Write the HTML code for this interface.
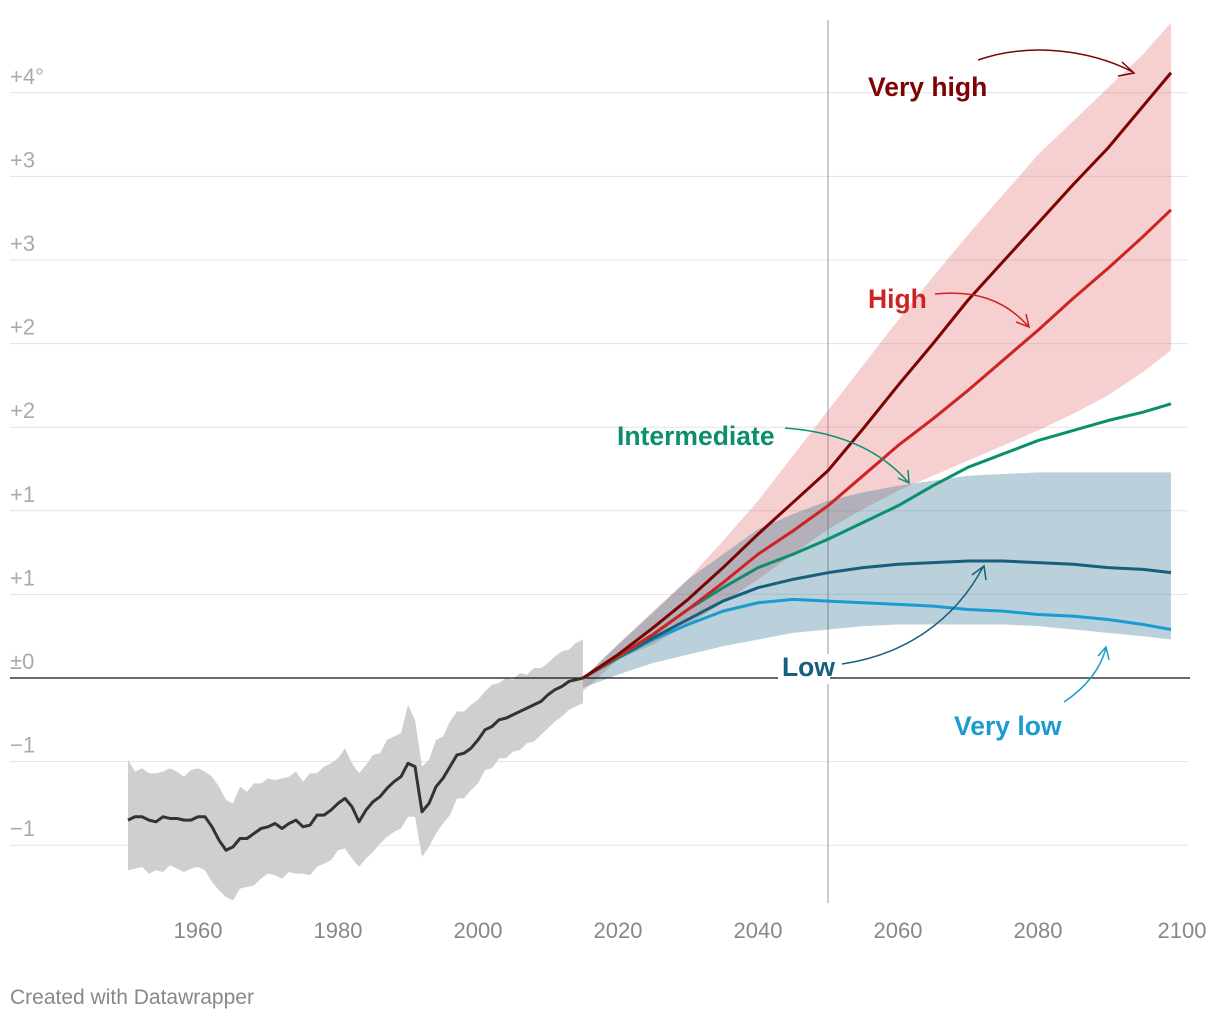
<!DOCTYPE html>
<html><head><meta charset="utf-8">
<style>
html,body{margin:0;padding:0;background:#fff;width:1220px;height:1020px;overflow:hidden;font-family:"Liberation Sans",Arial,sans-serif;}
svg text{font-family:"Liberation Sans",Arial,sans-serif;}
</style></head>
<body>
<svg id="chart" width="1220" height="1020" xmlns="http://www.w3.org/2000/svg">
<g id="grid"></g>
<g id="bands"></g>
<g id="lines"></g>
<g id="axes"></g>
<g id="annot"></g>
<text x="10" y="1004" font-size="21" fill="#888">Created with Datawrapper</text>
</svg>
<script>
const yTicks=[3.5,3,2.5,2,1.5,1,0.5,0,-0.5,-1];
const yTickLabels=["+4°","+3","+3","+2","+2","+1","+1","±0","−1","−1"];
const xTicks=[1960,1980,2000,2020,2040,2060,2080,2100];
const histYears0=1950;
const histValues=[-0.85,-0.83,-0.83,-0.85,-0.86,-0.83,-0.84,-0.84,-0.85,-0.85,-0.83,-0.83,-0.89,-0.97,-1.03,-1.01,-0.96,-0.96,-0.93,-0.90,-0.89,-0.87,-0.90,-0.87,-0.85,-0.89,-0.88,-0.82,-0.82,-0.79,-0.75,-0.72,-0.77,-0.86,-0.79,-0.74,-0.71,-0.66,-0.62,-0.59,-0.51,-0.53,-0.80,-0.75,-0.65,-0.60,-0.53,-0.46,-0.45,-0.42,-0.37,-0.31,-0.29,-0.25,-0.24,-0.22,-0.20,-0.18,-0.16,-0.14,-0.10,-0.07,-0.05,-0.02,-0.01,0];
const histUp=[0.36,0.27,0.29,0.28,0.29,0.27,0.30,0.28,0.26,0.30,0.29,0.27,0.30,0.32,0.30,0.26,0.31,0.28,0.30,0.27,0.29,0.26,0.30,0.28,0.29,0.27,0.31,0.25,0.29,0.28,0.27,0.30,0.26,0.29,0.27,0.28,0.26,0.29,0.27,0.26,0.35,0.28,0.27,0.26,0.28,0.25,0.27,0.26,0.25,0.26,0.24,0.23,0.25,0.22,0.24,0.21,0.23,0.20,0.22,0.20,0.19,0.20,0.21,0.19,0.22,0.23];
const histDn=[0.30,0.31,0.30,0.32,0.29,0.33,0.28,0.30,0.31,0.29,0.30,0.32,0.33,0.30,0.28,0.32,0.30,0.29,0.31,0.30,0.28,0.31,0.30,0.29,0.32,0.28,0.30,0.31,0.29,0.30,0.28,0.30,0.31,0.27,0.29,0.30,0.28,0.29,0.30,0.31,0.32,0.30,0.27,0.26,0.28,0.27,0.29,0.26,0.27,0.25,0.26,0.24,0.25,0.23,0.24,0.22,0.23,0.21,0.22,0.20,0.20,0.19,0.18,0.17,0.16,0.15];
const projYears=[2015,2020,2025,2030,2035,2040,2045,2050,2055,2060,2065,2070,2075,2080,2085,2090,2095,2099];
const veryHigh=[0,0.14,0.30,0.47,0.66,0.86,1.05,1.24,1.49,1.75,2.00,2.26,2.49,2.72,2.95,3.17,3.42,3.62];
const high=[0,0.13,0.26,0.41,0.57,0.74,0.88,1.03,1.21,1.39,1.55,1.72,1.90,2.08,2.27,2.45,2.64,2.80];
const intermediate=[0,0.12,0.26,0.41,0.54,0.66,0.74,0.83,0.93,1.03,1.15,1.26,1.34,1.42,1.48,1.54,1.59,1.64];
const low=[0,0.12,0.24,0.35,0.46,0.54,0.59,0.63,0.66,0.68,0.69,0.70,0.70,0.69,0.68,0.66,0.65,0.63];
const veryLow=[0,0.12,0.23,0.32,0.40,0.45,0.47,0.46,0.45,0.44,0.43,0.41,0.40,0.38,0.37,0.35,0.32,0.29];
const redUpper=[0,0.2,0.4,0.59,0.82,1.06,1.33,1.60,1.87,2.14,2.40,2.65,2.89,3.13,3.33,3.53,3.73,3.92];
const redLower=[-0.08,0.11,0.20,0.32,0.45,0.59,0.74,0.89,1.01,1.12,1.21,1.30,1.39,1.48,1.58,1.69,1.83,1.96];
const blueUpper=[0,0.2,0.39,0.59,0.74,0.89,0.98,1.06,1.11,1.15,1.18,1.21,1.22,1.23,1.23,1.23,1.23,1.23];
const blueLower=[-0.06,0.02,0.09,0.14,0.19,0.23,0.27,0.29,0.31,0.32,0.32,0.32,0.32,0.31,0.29,0.27,0.25,0.23];

const NS="http://www.w3.org/2000/svg";
const x=yr=>198+(yr-1960)*7;
const y=v=>678-v*167.2;
function mk(tag,attrs,parent){const e=document.createElementNS(NS,tag);for(const k in attrs)e.setAttribute(k,attrs[k]);parent.appendChild(e);return e;}
const grid=document.getElementById('grid'),axes=document.getElementById('axes'),bands=document.getElementById('bands'),lines=document.getElementById('lines'),annot=document.getElementById('annot');

yTicks.forEach((t,i)=>{
  if(t!==0){const l=mk('line',{x1:10,x2:1188,y1:y(t),y2:y(t),stroke:'#e3e3e3','stroke-width':1},grid);
  
  }
  const tx=mk('text',{x:10,y:y(t)-9,'font-size':22,fill:'#aaa'},axes);tx.textContent=yTickLabels[i];
  
  
});
xTicks.forEach(t=>{
  const tx=mk('text',{x:x(t)+(t===2100?4:0),y:938,'font-size':22,fill:'#888','text-anchor':'middle'},axes);tx.textContent=t;
  
  
});
const vl=mk('line',{x1:x(2050),x2:x(2050),y1:20,y2:903,stroke:'#aaa','stroke-width':1.2},grid);



function area(xs,up,dn,fill,name){
  let d='M'+xs.map((v,i)=>x(v)+','+y(up[i])).join('L');
  for(let i=xs.length-1;i>=0;i--)d+='L'+x(xs[i])+','+y(dn[i]);
  const p=mk('path',{d:d+'Z',fill:fill},bands);
  
  
}
function line(xs,vals,color,w,name){
  const p=mk('path',{d:'M'+xs.map((v,i)=>x(v)+','+y(vals[i])).join('L'),fill:'none',stroke:color,'stroke-width':w,'stroke-linejoin':'round'},lines);
  
  
}
const hy=histValues.map((v,i)=>histYears0+i);
area(hy,histValues.map((v,i)=>v+histUp[i]),histValues.map((v,i)=>v-histDn[i]),'#cfcfcf','historical-band');
area(projYears,redUpper,redLower,'rgba(226,110,110,0.32)','high-scenario-band');
area(projYears,blueUpper,blueLower,'rgba(40,110,140,0.32)','low-scenario-band');
const z=mk('line',{x1:10,x2:1190,y1:y(0),y2:y(0),stroke:'#111','stroke-width':1.3},lines);


line(hy,histValues,'#333',3,'historical-line');
line(projYears,veryLow,'#1b9bd0',3,'very-low-line');
line(projYears,low,'#175f7c',3,'low-line');
line(projYears,intermediate,'#0b8f6e',3,'intermediate-line');
line(projYears,high,'#cd2323',3,'high-line');
line(projYears,veryHigh,'#7d0303',3,'very-high-line');

function label(txt,xx,yy,color,name,bg){
  if(bg){const r=mk('rect',{x:xx-4,y:yy-22,width:txt.length*16+4,height:30,fill:'#fff'},annot);
  
  }
  const t=mk('text',{x:xx,y:yy,'font-size':26.5,'font-weight':'bold',fill:color},annot);t.textContent=txt;
  
  
}
function arrow(d,color,name){
  const p=mk('path',{d:d,fill:'none',stroke:color,'stroke-width':1.5},annot);
  
  
}
label('Very high',868,96,'#7d0303','label-very-high');
arrow('M978,60 C1030,42 1090,50 1133,72 M1122,62 L1134,73 L1118,76','#7d0303','arrow-very-high');
label('High',868,308,'#cd2323','label-high');
arrow('M935,294 C975,290 1005,300 1028,326 M1016,322 L1029,327 L1026,314','#cd2323','arrow-high');
label('Intermediate',617,445,'#0b8f6e','label-intermediate');
arrow('M785,428 C840,432 880,450 908,482 M898,478 L909,483 L908,470','#0b8f6e','arrow-intermediate');
label('Low',782,676,'#175f7c','label-low',true);
arrow('M842,664 C905,655 955,620 983,567 M972,575 L984,566 L986,580','#175f7c','arrow-low');
label('Very low',954,735,'#1b9bd0','label-very-low');
arrow('M1064,702 C1085,688 1100,670 1106,648 M1098,656 L1106,647 L1109,660','#1b9bd0','arrow-very-low');
</script>
</body></html>
